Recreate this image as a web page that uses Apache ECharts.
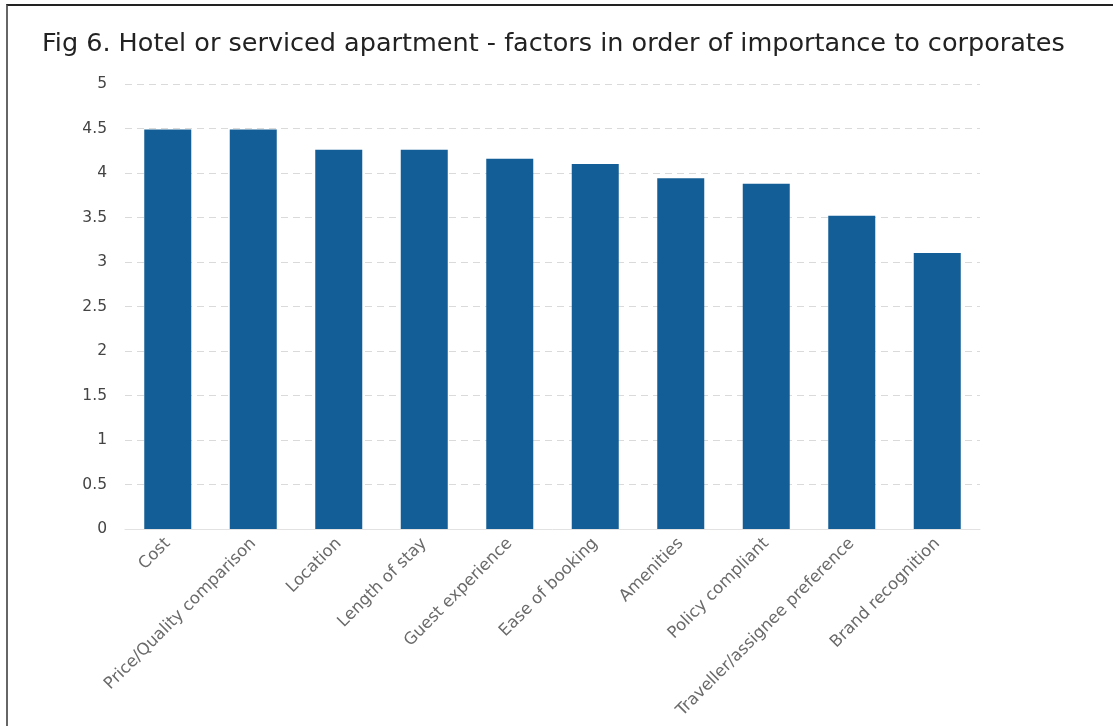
<!DOCTYPE html>
<html><head><meta charset="utf-8">
<script src="https://cdn.jsdelivr.net/npm/echarts@6/dist/echarts.min.js"></script>
<style>
html,body{margin:0;padding:0;background:#fff;overflow:hidden}
#frame{position:absolute;left:6px;top:4px;width:1300px;height:900px;border-top:2px solid #222;border-left:2px solid #666;box-sizing:border-box}
#chart{position:absolute;left:0;top:0;width:1113px;height:726px}
</style></head>
<body>
<div id="frame"></div>
<div id="chart"></div>
<script>
const titleText = 'Fig 6. Hotel or serviced apartment - factors in order of importance to corporates';
const categories = ['Cost','Price/Quality comparison','Location','Length of stay','Guest experience','Ease of booking','Amenities','Policy compliant','Traveller/assignee preference','Brand recognition'];
const values = [4.49, 4.49, 4.26, 4.26, 4.16, 4.10, 3.94, 3.88, 3.52, 3.10];
const yTicks = {min: 0, max: 5, interval: 0.5};

const chart = echarts.init(document.getElementById('chart'));
chart.setOption({
  animation: false,
  backgroundColor: 'transparent',
  title: {
    text: titleText, left: 37, top: 26,
    textStyle: {fontFamily: 'DejaVu Sans', fontSize: 25.5, fontWeight: 'normal', color: '#222'}
  },
  grid: {left: 125, right: 133, top: 84, bottom: 197},
  xAxis: {
    type: 'category', data: categories,
    axisLine: {show: true, lineStyle: {color: '#e2e2e2'}},
    axisTick: {show: false},
    axisLabel: {rotate: 45, interval: 0, margin: 12, fontFamily: 'DejaVu Sans', fontSize: 16.5, color: '#6a6a6a'}
  },
  yAxis: {
    type: 'value', min: yTicks.min, max: yTicks.max, interval: yTicks.interval,
    axisLine: {show: false}, axisTick: {show: false},
    axisLabel: {margin: 18, fontFamily: 'DejaVu Sans', fontSize: 15.5, color: '#444'},
    splitLine: {lineStyle: {color: '#dadada', type: [7, 5], width: 1}}
  },
  series: [{
    type: 'bar', data: values, barWidth: 47,
    itemStyle: {color: '#135e96'}
  }]
});
</script>
</body></html>
